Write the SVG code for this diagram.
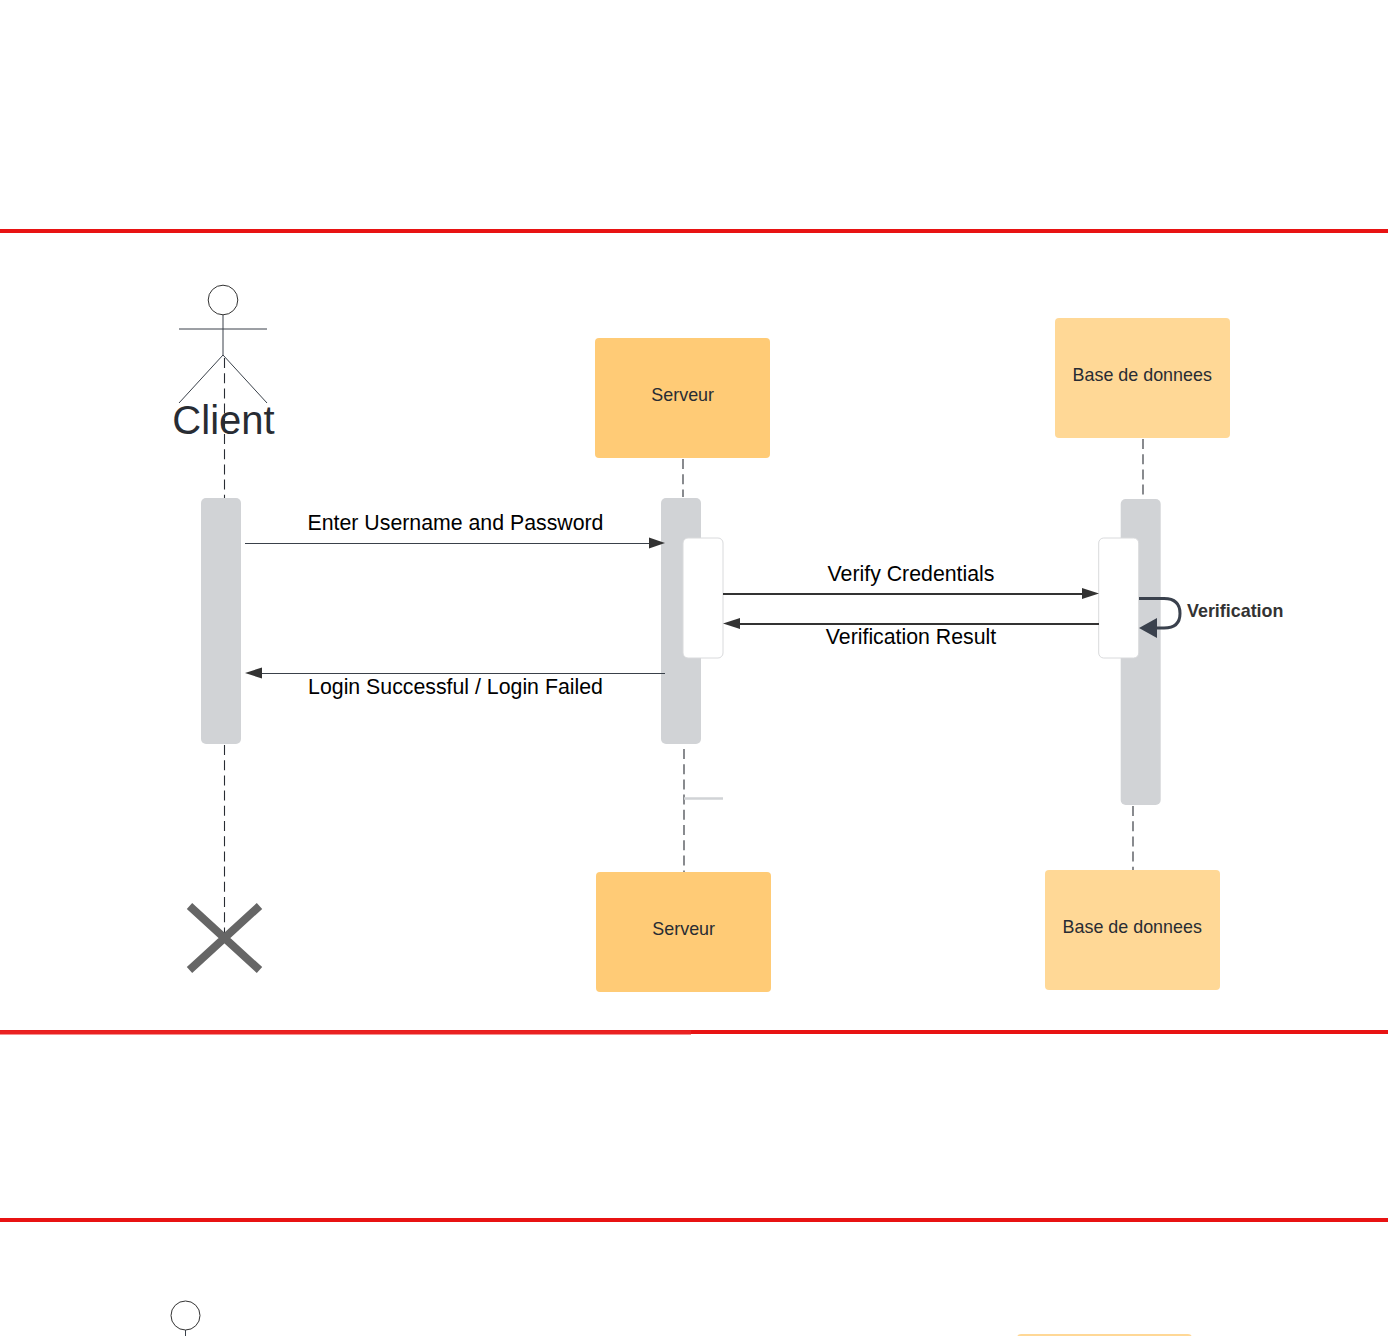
<svg xmlns="http://www.w3.org/2000/svg" width="1388" height="1336" viewBox="0 0 1388 1336">
<style>
text{font-family:"Liberation Sans",Arial,sans-serif}
.lbl{font-size:21.3px;fill:#000;text-anchor:middle}
.nt{font-size:17.9px;fill:#282c33;text-anchor:middle}
.red{stroke:#e81313;stroke-width:4;fill:none}
.dash{stroke:#282c33;stroke-width:1.1;stroke-dasharray:10 5.2;fill:none}
.bar{fill:#d1d3d6}
.act{fill:#fff;stroke:#d9dadc;stroke-width:1}
.thin{stroke:#3a414a;stroke-width:1;fill:none}
.msg{stroke:#333;stroke-width:2;fill:none}
.hd{fill:#333}
</style>
<rect width="1388" height="1336" fill="#fff"/>
<g id="frames">
<line class="red" x1="0" y1="231" x2="1388" y2="231"/>
<line class="red" x1="0" y1="1032" x2="1388" y2="1032"/>
<line x1="0" y1="1032.300" x2="691" y2="1032.300" stroke="#ea2222" stroke-width="4.200"/>
<line class="red" x1="0" y1="1220" x2="1388" y2="1220"/>
</g>
<g id="lifelines">
<line class="dash" x1="224.500" y1="358" x2="224.500" y2="498"/>
<line class="dash" x1="224.500" y1="745" x2="224.500" y2="935"/>
<line class="dash" x1="683" y1="459" x2="683" y2="497"/>
<line class="dash" x1="684" y1="749" x2="684" y2="872"/>
<line class="dash" x1="1143" y1="439" x2="1143" y2="499"/>
<line class="dash" x1="1133" y1="806" x2="1133" y2="870"/>
</g>
<g id="actor-client">
<circle cx="223" cy="300" r="14.800" fill="#fff" stroke="#333" stroke-width="1"/>
<path class="thin" d="M223 315V355M179 329H267M179 403L223 355L267 403"/>
<text x="223.500" y="434" font-size="40" fill="#282c33" text-anchor="middle">Client</text>
</g>
<g id="node-serveur-top"><rect x="595" y="338" width="175" height="120" rx="4" fill="#ffcb76"/><text class="nt" x="682.700" y="401">Serveur</text></g>
<g id="node-bdd-top"><rect x="1055" y="318" width="175" height="120" rx="4" fill="#ffd896"/><text class="nt" x="1142.200" y="381">Base de donnees</text></g>
<g id="node-serveur-bottom"><rect x="596" y="872" width="175" height="120" rx="4" fill="#ffcb76"/><text class="nt" x="683.700" y="935">Serveur</text></g>
<g id="node-bdd-bottom"><rect x="1045" y="870" width="175" height="120" rx="4" fill="#ffd896"/><text class="nt" x="1132.200" y="933">Base de donnees</text></g>
<g id="activation-client"><rect class="bar" x="201" y="498" width="40" height="246" rx="5"/></g>
<g id="activation-serveur"><rect class="bar" x="661" y="498" width="40" height="246" rx="5"/><rect class="act" x="683" y="538" width="40" height="120" rx="5"/></g>
<g id="activation-bdd"><rect class="bar" x="1120.700" y="499" width="40" height="306" rx="5"/><rect class="act" x="1098.700" y="538" width="40" height="120" rx="5"/></g>
<g id="connectors">
<line class="thin" x1="245" y1="543.500" x2="650" y2="543.500"/>
<polygon class="hd" points="665,543 649,537.500 649,548.500"/>
<line class="msg" x1="723" y1="594" x2="1084" y2="594"/>
<polygon class="hd" points="1099,593.500 1082,588 1082,599"/>
<line class="msg" x1="738" y1="624" x2="1099" y2="624"/>
<polygon class="hd" points="723,623.500 740,618 740,629"/>
<line class="thin" x1="260" y1="673.500" x2="665" y2="673.500"/>
<polygon class="hd" points="245,673 262,667.500 262,678.500"/>
<path d="M1139 598.500H1164Q1180 598.500 1180 613.500Q1180 628 1164 628H1154" fill="none" stroke="#3a414d" stroke-width="3"/>
<polygon fill="#3a414d" points="1139,628 1157,618 1157,638"/>
<line x1="684" y1="798.500" x2="723" y2="798.500" stroke="#d1d3d6" stroke-width="2.400"/>
</g>
<g id="labels">
<text class="lbl" x="455.500" y="530">Enter Username and Password</text>
<text class="lbl" x="911" y="581">Verify Credentials</text>
<text class="lbl" x="911" y="644">Verification Result</text>
<text class="lbl" x="455.500" y="694">Login Successful / Login Failed</text>
<text x="1187" y="617" font-size="17.900" font-weight="700" fill="#333">Verification</text>
</g>
<g id="destroy"><path d="M189.500 906L259.500 970M259.500 906L189.500 970" stroke="#666" stroke-width="8" fill="none"/></g>
<g id="actor-client-2"><circle cx="185.500" cy="1315.500" r="14.500" fill="#fff" stroke="#333" stroke-width="1"/><line class="thin" x1="185.500" y1="1330" x2="185.500" y2="1336"/></g>
<g id="node-bdd-2"><rect x="1017" y="1334" width="175" height="10" rx="4" fill="#ffd896"/></g>
</svg>
